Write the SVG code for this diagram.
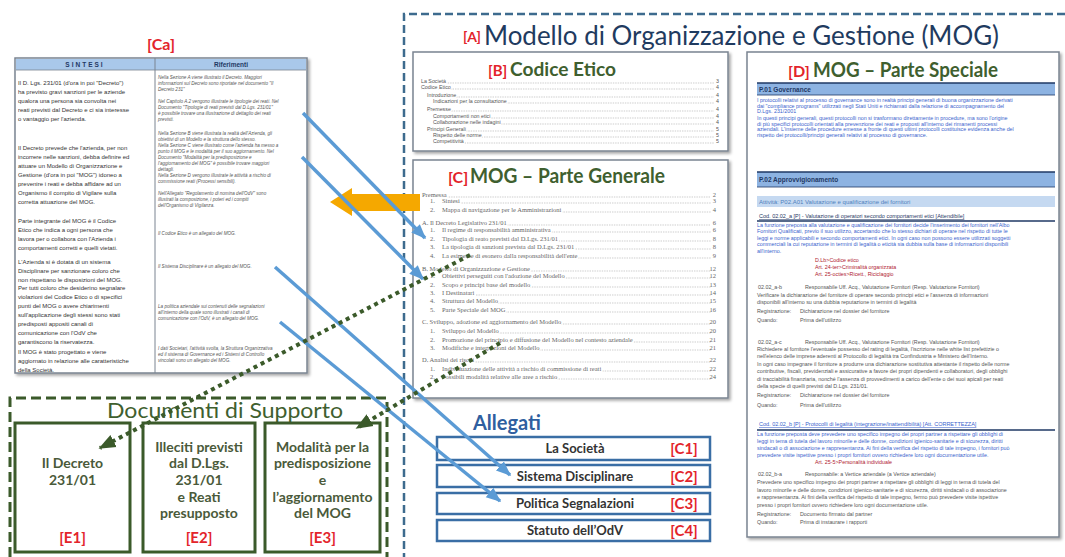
<svg xmlns="http://www.w3.org/2000/svg" width="1065" height="557" viewBox="0 0 1065 557">
<defs>
<filter id="sh" x="-5%" y="-5%" width="115%" height="115%"><feDropShadow dx="2" dy="2" stdDeviation="1.5" flood-color="#000" flood-opacity="0.35"/></filter>
<marker id="ab" viewBox="0 0 10 10" refX="9" refY="5" markerWidth="15" markerHeight="15" markerUnits="userSpaceOnUse" orient="auto"><path d="M0,1 L10,5 L0,9 Z" fill="#5b9bd5"/></marker>
<marker id="ag" viewBox="0 0 10 10" refX="9" refY="5" markerWidth="17" markerHeight="17" markerUnits="userSpaceOnUse" orient="auto"><path d="M0,1 L10,5 L0,9 Z" fill="#3b5a2a"/></marker>
</defs>
<style>
.red{fill:#e3242b;font-family:Lato,"Liberation Sans",sans-serif;font-weight:bold}
.sm{font-family:"Liberation Sans",Arial,sans-serif;font-size:6px;fill:#333}
.ri{font-family:"Liberation Sans",Arial,sans-serif;font-size:4.6px;font-style:italic;fill:#555}
.tocs{font-family:"Liberation Sans",Arial,sans-serif;font-size:5.3px;fill:#555;paint-order:stroke;stroke:#fff;stroke-width:2px}
.tocg{font-family:"Liberation Serif",serif;font-size:6.5px;fill:#666;paint-order:stroke;stroke:#fff;stroke-width:2.5px}
.num{font-family:"Liberation Serif",serif;font-size:6.5px;fill:#666;text-anchor:end}
.nums{font-family:"Liberation Sans",Arial,sans-serif;font-size:5.3px;fill:#555;text-anchor:end}
.ldr{stroke:#999;stroke-width:0.7;stroke-dasharray:0.7 1}
.ps{font-family:"Liberation Sans",Arial,sans-serif;font-size:5.35px;fill:#3a5fcd}
.pg{font-family:"Liberation Sans",Arial,sans-serif;font-size:5.35px;fill:#555}
.pr{font-family:"Liberation Sans",Arial,sans-serif;font-size:5.35px;fill:#b02030}
.ph{font-family:"Liberation Sans",Arial,sans-serif;font-size:6.5px;font-weight:bold;fill:#1f3864}
.gt{font-family:Lato,"Liberation Sans",sans-serif;font-weight:bold;fill:#3f5f2f}
.doc{fill:#fff;stroke:#7a8491;stroke-width:1.5}
.et{font-family:Lato,"Liberation Sans",sans-serif;font-size:14px;font-weight:bold;fill:#4a5a3a;text-anchor:middle}
.al{font-family:Lato,"Liberation Sans",sans-serif;font-size:13px;font-weight:bold;fill:#333;text-anchor:middle}
.abox{fill:#fff;stroke:#3a6ea5;stroke-width:2.5}
.ebox{fill:#fff;stroke:#3b5a2a;stroke-width:3}
.blu{fill:none;stroke:#5b9bd5;stroke-width:3.5}
.grn{fill:none;stroke:#3b5a2a;stroke-width:4;stroke-dasharray:4 4}
</style>
<rect width="1065" height="557" fill="#fff"/>

<!-- [Ca] summary document -->
<g id="doc-ca">
<text x="161" y="50" class="red" font-size="16" text-anchor="middle">[Ca]</text>
<rect x="15" y="58" width="292" height="315" class="doc" filter="url(#sh)"/>
<rect x="16" y="59" width="290" height="11" fill="#a9c8ea"/>
<line x1="16" y1="70" x2="306" y2="70" stroke="#7a8491" stroke-width="0.8"/>
<line x1="155" y1="58" x2="155" y2="373" stroke="#7a8491" stroke-width="1"/>
<text x="85" y="67.3" font-family="Liberation Sans, Arial, sans-serif" font-size="6.5" font-weight="bold" fill="#1f3864" text-anchor="middle" letter-spacing="2">SINTESI</text>
<text x="231" y="67.3" font-family="Liberation Sans, Arial, sans-serif" font-size="6.5" font-weight="bold" fill="#1f3864" text-anchor="middle">Riferimenti</text>
<g class="sm">
<text x="18" y="85">Il D. Lgs. 231/01 (d'ora in poi "Decreto")</text>
<text x="18" y="94">ha previsto gravi sanzioni per le aziende</text>
<text x="18" y="103">qualora una persona sia convolta nei</text>
<text x="18" y="112">reati previsti dal Decreto e ci sia interesse</text>
<text x="18" y="121">o vantaggio per l'azienda.</text>
<text x="18" y="150">Il Decreto prevede che l'azienda, per non</text>
<text x="18" y="159">incorrere nelle sanzioni, debba definire ed</text>
<text x="18" y="168">attuare un Modello di Organizzazione e</text>
<text x="18" y="177">Gestione (d'ora in poi "MOG") idoneo a</text>
<text x="18" y="186">prevenire i reati e debba affidare ad un</text>
<text x="18" y="195">Organismo il compito di Vigilare sulla</text>
<text x="18" y="204">corretta attuazione del MOG.</text>
<text x="18" y="223">Parte integrante del MOG è il Codice</text>
<text x="18" y="232">Etico che indica a ogni persona che</text>
<text x="18" y="241">lavora per o collabora con l'Azienda i</text>
<text x="18" y="250">comportamenti corretti e quelli vietati.</text>
<text x="18" y="264">L'Azienda si è dotata di un sistema</text>
<text x="18" y="273">Disciplinare per sanzionare coloro che</text>
<text x="18" y="282">non rispettano le disposizioni del MOG.</text>
<text x="18" y="290">Per tutti coloro che desiderino segnalare</text>
<text x="18" y="299">violazioni del Codice Etico o di specifici</text>
<text x="18" y="308">punti del MOG o avere chiarimenti</text>
<text x="18" y="317">sull'applicazione degli stessi sono stati</text>
<text x="18" y="326">predisposti appositi canali di</text>
<text x="18" y="335">comunicazione con l'OdV che</text>
<text x="18" y="344">garantiscono la riservatezza.</text>
<text x="18" y="354">Il MOG è stato progettato e viene</text>
<text x="18" y="363">aggiornato in relazione alle caratteristiche</text>
<text x="18" y="372">della Società.</text>
</g>
<g class="ri">
<text x="158" y="79">Nella Sezione A viene illustrato il Decreto. Maggiori</text>
<text x="158" y="85">informazioni sul Decreto sono riportate nel documento "Il</text>
<text x="158" y="91">Decreto 231"</text>
<text x="158" y="103">Nel Capitolo A.2 vengono illustrate le tipologie dei reati. Nel</text>
<text x="158" y="109">Documento "Tipologie di reati previsti dal D.Lgs. 231/01"</text>
<text x="158" y="115">è possibile trovare una illustrazione di dettaglio dei reati</text>
<text x="158" y="121">previsti.</text>
<text x="158" y="135">Nella Sezione B viene illustrata la realtà dell'Azienda, gli</text>
<text x="158" y="141">obiettivi di un Modello e la struttura dello stesso.</text>
<text x="158" y="147">Nella Sezione C viene illustrato come l'azienda ha messo a</text>
<text x="158" y="153">punto il MOG e le modalità per il suo aggiornamento. Nel</text>
<text x="158" y="159">Documento "Modalità per la predisposizione e</text>
<text x="158" y="165">l'aggiornamento del MOG" è possibile trovare maggiori</text>
<text x="158" y="171">dettagli.</text>
<text x="158" y="177">Nella Sezione D vengono illustrate le attività a rischio di</text>
<text x="158" y="183">commissione reati (Processi sensibili).</text>
<text x="158" y="195">Nell'Allegato "Regolamento di nomina dell'OdV" sono</text>
<text x="158" y="201">illustrati la composizione, i poteri ed i compiti</text>
<text x="158" y="207">dell'Organismo di Vigilanza.</text>
<text x="158" y="235">Il Codice Etico è un allegato del MOG.</text>
<text x="158" y="268">Il Sistema Disciplinare è un allegato del MOG.</text>
<text x="158" y="308">La politica aziendale sui contenuti delle segnalazioni</text>
<text x="158" y="314">all'interno della quale sono illustrati i canali di</text>
<text x="158" y="320">comunicazione con l'OdV, è un allegato del MOG.</text>
<text x="158" y="350">I dati Societari, l'attività svolta, la Struttura Organizzativa</text>
<text x="158" y="356">ed il sistema di Governance ed i Sistemi di Controllo</text>
<text x="158" y="362">vincolati sono un allegato del MOG.</text>
</g>
</g>

<!-- [A] MOG container -->
<g id="mog">
<path d="M1065,14 H404 V557" fill="none" stroke="#3d6b8e" stroke-width="2.5" stroke-dasharray="8 4"/>
<text x="463" y="42" class="red" font-size="14" font-weight="normal">[A]</text>
<text x="484" y="45" font-family="Lato, 'Liberation Sans', sans-serif" font-size="26" fill="#1f3b60" textLength="515" lengthAdjust="spacingAndGlyphs">Modello di Organizzazione e Gestione (MOG)</text>
</g>

<!-- [B] Codice Etico -->
<g id="codice-etico">
<rect x="413" y="52" width="315" height="99" class="doc" filter="url(#sh)"/>
<text x="488" y="76" class="red" font-size="15" font-weight="normal">[B]</text>
<text x="510" y="76" class="gt" font-size="19" textLength="106" lengthAdjust="spacingAndGlyphs">Codice Etico</text>
<g class="ldr">
<line x1="421" y1="83" x2="714" y2="83"/><line x1="421" y1="89" x2="714" y2="89"/>
<line x1="427" y1="97" x2="714" y2="97"/><line x1="433" y1="103" x2="714" y2="103"/>
<line x1="427" y1="111" x2="714" y2="111"/><line x1="433" y1="118" x2="714" y2="118"/>
<line x1="433" y1="124" x2="714" y2="124"/><line x1="427" y1="131" x2="714" y2="131"/>
<line x1="433" y1="137" x2="714" y2="137"/><line x1="433" y1="143" x2="714" y2="143"/>
</g>
<g class="tocs">
<text x="421" y="83">La Società</text><text x="421" y="89">Codice Etico</text>
<text x="427" y="97">Introduzione</text><text x="433" y="103">Indicazioni per la consultazione</text>
<text x="427" y="111">Premesse</text><text x="433" y="118">Comportamenti non etici</text>
<text x="433" y="124">Collaborazione nelle indagini</text><text x="427" y="131">Principi Generali</text>
<text x="433" y="137">Rispetto delle norme</text><text x="433" y="143">Competitività</text>
</g>
<g class="nums">
<text x="719" y="83">3</text><text x="719" y="89">4</text><text x="719" y="97">4</text><text x="719" y="103">4</text>
<text x="719" y="111">4</text><text x="719" y="118">4</text><text x="719" y="124">4</text><text x="719" y="131">5</text>
<text x="719" y="137">5</text><text x="719" y="143">5</text>
</g>
</g>

<!-- [C] Parte Generale -->
<g id="parte-generale">
<rect x="413" y="160" width="315" height="238" class="doc" filter="url(#sh)"/>
<text x="448" y="183" class="red" font-size="16" font-weight="normal">[C]</text>
<text x="470" y="183" class="gt" font-size="21" textLength="195" lengthAdjust="spacingAndGlyphs">MOG – Parte Generale</text>
<g class="ldr">
<line x1="422" y1="197" x2="711" y2="197"/><line x1="442" y1="203" x2="711" y2="203"/><line x1="442" y1="212" x2="711" y2="212"/>
<line x1="422" y1="225" x2="711" y2="225"/><line x1="442" y1="232" x2="711" y2="232"/><line x1="442" y1="241" x2="711" y2="241"/>
<line x1="442" y1="249" x2="711" y2="249"/><line x1="442" y1="258" x2="711" y2="258"/>
<line x1="422" y1="271" x2="711" y2="271"/><line x1="442" y1="278" x2="711" y2="278"/><line x1="442" y1="287" x2="711" y2="287"/>
<line x1="442" y1="295" x2="711" y2="295"/><line x1="442" y1="303" x2="711" y2="303"/><line x1="442" y1="312" x2="711" y2="312"/>
<line x1="422" y1="324" x2="711" y2="324"/><line x1="442" y1="333" x2="711" y2="333"/><line x1="442" y1="342" x2="711" y2="342"/>
<line x1="442" y1="350" x2="711" y2="350"/><line x1="422" y1="362" x2="711" y2="362"/><line x1="442" y1="371" x2="711" y2="371"/>
<line x1="442" y1="379" x2="711" y2="379"/>
</g>
<g class="tocg">
<text x="422" y="197">Premessa</text>
<text x="430" y="203">1.</text><text x="442" y="203">Sintesi</text>
<text x="430" y="212">2.</text><text x="442" y="212">Mappa di navigazione per le Amministrazioni</text>
<text x="422" y="225">A. Il Decreto Legislativo 231/01</text>
<text x="430" y="232">1.</text><text x="442" y="232">Il regime di responsabilità amministrativa</text>
<text x="430" y="241">2.</text><text x="442" y="241">Tipologia di reato previsti dal D.Lgs. 231/01</text>
<text x="430" y="249">3.</text><text x="442" y="249">La tipologia di sanzioni prevista dal D.Lgs. 231/01</text>
<text x="430" y="258">4.</text><text x="442" y="258">La esimente di esonero dalla responsabilità dell'ente</text>
<text x="422" y="271">B. Modello di Organizzazione e Gestione</text>
<text x="430" y="278">1.</text><text x="442" y="278">Obiettivi perseguiti con l'adozione del Modello</text>
<text x="430" y="287">2.</text><text x="442" y="287">Scopo e principi base del modello</text>
<text x="430" y="295">3.</text><text x="442" y="295">I Destinatari</text>
<text x="430" y="303">4.</text><text x="442" y="303">Struttura del Modello</text>
<text x="430" y="312">5.</text><text x="442" y="312">Parte Speciale del MOG</text>
<text x="422" y="324">C. Sviluppo, adozione ed aggiornamento del Modello</text>
<text x="430" y="333">1.</text><text x="442" y="333">Sviluppo del Modello</text>
<text x="430" y="342">2.</text><text x="442" y="342">Promozione del principio e diffusione del Modello nel contesto aziendale</text>
<text x="430" y="350">3.</text><text x="442" y="350">Modifiche e integrazioni del Modello</text>
<text x="422" y="362">D. Analisi dei rischi</text>
<text x="430" y="371">1.</text><text x="442" y="371">Individuazione delle attività a rischio di commissione di reati</text>
<text x="430" y="379">2.</text><text x="442" y="379">Possibili modalità relative alle aree a rischio</text>
</g>
<g class="num">
<text x="716" y="197">2</text><text x="716" y="203">3</text><text x="716" y="212">4</text><text x="716" y="225">6</text>
<text x="716" y="232">6</text><text x="716" y="241">8</text><text x="716" y="249">8</text><text x="716" y="258">9</text>
<text x="716" y="271">12</text><text x="716" y="278">12</text><text x="716" y="287">13</text><text x="716" y="295">14</text>
<text x="716" y="303">15</text><text x="716" y="312">16</text><text x="716" y="324">20</text><text x="716" y="333">20</text>
<text x="716" y="342">21</text><text x="716" y="350">21</text><text x="716" y="362">22</text><text x="716" y="371">22</text>
<text x="716" y="379">24</text>
</g>
</g>

<!-- [D] Parte Speciale -->
<g id="parte-speciale">
<rect x="747" y="52" width="312" height="485" class="doc" filter="url(#sh)"/>
<text x="788" y="77" class="red" font-size="16" font-weight="normal">[D]</text>
<text x="813" y="77" class="gt" font-size="21" textLength="185" lengthAdjust="spacingAndGlyphs">MOG – Parte Speciale</text>
<rect x="757" y="83" width="298" height="12" fill="#8db3e2"/>
<line x1="757" y1="83" x2="1055" y2="83" stroke="#1f3864" stroke-width="1.5"/>
<line x1="757" y1="95" x2="1055" y2="95" stroke="#1f3864" stroke-width="0.8"/>
<text x="759" y="91.5" class="ph">P.01 Governance</text>
<g class="ps">
<text x="757" y="102">I protocolli relativi al processo di governance sono in realtà principi generali di buona organizzazione derivati</text>
<text x="757" y="107.5">dai "compliance programs" utilizzati negli Stati Uniti e richiamati dalla relazione di accompagnamento del</text>
<text x="757" y="113">D.Lgs. 231/2001</text>
<text x="757" y="120">In questi principi generali, questi protocolli non si trasformano direttamente in procedure, ma sono l'origine</text>
<text x="757" y="125.5">di più specifici protocolli orientati alla prevenzione dei reati e proposti all'interno dei rimanenti processi</text>
<text x="757" y="131">aziendali. L'insieme delle procedure emesse a fronte di questi ultimi protocolli costituisce evidenza anche del</text>
<text x="757" y="136.5">rispetto dei protocolli/principi generali relativi al processo di governance.</text>
</g>
<rect x="757" y="172" width="298" height="15" fill="#8db3e2"/>
<line x1="757" y1="172" x2="1055" y2="172" stroke="#1f3864" stroke-width="1.5"/>
<line x1="757" y1="187" x2="1055" y2="187" stroke="#1f3864" stroke-width="0.8"/>
<text x="759" y="182" class="ph">P.02 Approvvigionamento</text>
<rect x="757" y="196" width="298" height="11" fill="#c5d9f1"/>
<text x="759" y="204" font-family="Liberation Sans, Arial, sans-serif" font-size="6" fill="#4f81bd">Attività: P02.A01 Valutazione e qualificazione dei fornitori</text>
<text x="759" y="218" font-family="Liberation Sans, Arial, sans-serif" font-size="5.5" fill="#1f3864" text-decoration="underline">Cod. 02.02_a [P] - Valutazione di operatori secondo comportamenti etici [Attendibile]</text>
<line x1="757" y1="221" x2="1055" y2="221" stroke="#1f3864" stroke-width="1.5"/>
<g class="ps">
<text x="757" y="227">La funzione preposta alla valutazione e qualificazione dei fornitori decide l'inserimento dei fornitori nell'Albo</text>
<text x="757" y="233">Fornitori Qualificati, previo il suo utilizzo, accertando che lo stesso dichiari di operare nel rispetto di tutte le</text>
<text x="757" y="239.5">leggi e norme applicabili e secondo comportamenti etici. In ogni caso non possono essere utilizzati soggetti</text>
<text x="757" y="246">commerciali la cui reputazione in termini di legalità o eticità sia dubbia sulla base di informazioni disponibili</text>
<text x="757" y="252.5">all'interno.</text>
</g>
<g class="pr">
<text x="815" y="262">D.Lb&gt;Codice etico</text>
<text x="815" y="269">Art. 24-ter&gt;Criminalità organizzata</text>
<text x="815" y="276">Art. 25-octies&gt;Ricett., Riciclaggio</text>
</g>
<g class="pg">
<text x="758" y="289">02.02_a-b</text><text x="805" y="289">Responsabile Uff. Acq., Valutazione Fornitori (Resp. Valutazione Fornitori)</text>
<text x="757" y="297">Verificare la dichiarazione del fornitore di operare secondo principi etici e l'assenza di informazioni</text>
<text x="757" y="304">disponibili all'interno su una dubbia reputazione in termini di legalità</text>
<text x="757" y="313">Registrazione:</text><text x="800" y="313">Dichiarazione nel dossier del fornitore</text>
<text x="757" y="322">Quando:</text><text x="800" y="322">Prima dell'utilizzo</text>
<text x="758" y="344">02.02_a-c</text><text x="805" y="344">Responsabile Uff. Acq., Valutazione Fornitori (Resp. Valutazione Fornitori)</text>
<text x="757" y="351">Richiedere al fornitore l'eventuale possesso del rating di legalità, l'iscrizione nelle white list prefettizie o</text>
<text x="757" y="358">nell'elenco delle imprese aderenti al Protocollo di legalità tra Confindustria e Ministero dell'Interno.</text>
<text x="757" y="365.5">In ogni caso impegnare il fornitore a produrre una dichiarazione sostitutiva attestante il rispetto delle norme</text>
<text x="757" y="373">contributive, fiscali, previdenziali e assicurative a favore dei propri dipendenti e collaboratori, degli obblighi</text>
<text x="757" y="380.5">di tracciabilità finanziaria, nonché l'assenza di provvedimenti a carico dell'ente o dei suoi apicali per reati</text>
<text x="757" y="388">della specie di quelli previsti dal D.Lgs. 231/01.</text>
<text x="757" y="397">Registrazione:</text><text x="800" y="397">Dichiarazione nel dossier del fornitore</text>
<text x="757" y="407">Quando:</text><text x="800" y="407">Prima dell'utilizzo</text>
</g>
<text x="759" y="426" font-family="Liberation Sans, Arial, sans-serif" font-size="5.5" fill="#3a5fcd" text-decoration="underline">Cod. 02.02_b [P] - Protocolli di legalità (integrazione/inattendibilità) [Att. CORRETTEZZA]</text>
<line x1="757" y1="430" x2="1055" y2="430" stroke="#1f3864" stroke-width="1.5"/>
<g class="ps">
<text x="757" y="436">La funzione preposta deve prevedere uno specifico impegno dei propri partner a rispettare gli obblighi di</text>
<text x="757" y="443">leggi in tema di tutela del lavoro minorile e delle donne, condizioni igienico-sanitarie e di sicurezza, diritti</text>
<text x="757" y="450">sindacali o di associazione e rappresentanza. Ai fini della verifica del rispetto di tale impegno, i fornitori può</text>
<text x="757" y="457">prevedere visite ispettive presso i propri fornitori ovvero richiedere loro ogni documentazione utile.</text>
</g>
<text x="815" y="464" class="pr">Art. 25-5&gt;Personalità individuale</text>
<g class="pg">
<text x="758" y="476">02.02_b-a</text><text x="805" y="476">Responsabile: a Vertice aziendale (a Vertice aziendale)</text>
<text x="757" y="484">Prevedere uno specifico impegno dei propri partner a rispettare gli obblighi di leggi in tema di tutela del</text>
<text x="757" y="491.5">lavoro minorile e delle donne, condizioni igienico-sanitarie e di sicurezza, diritti sindacali o di associazione</text>
<text x="757" y="499">e rappresentanza. Ai fini della verifica del rispetto di tale impegno, fermo può prevedere visite ispettive</text>
<text x="757" y="506.5">presso i propri fornitori ovvero richiedere loro ogni documentazione utile.</text>
<text x="757" y="516">Registrazione:</text><text x="800" y="516">Documento firmato dal partner</text>
<text x="757" y="524">Quando:</text><text x="800" y="524">Prima di instaurare i rapporti</text>
</g>
</g>

<!-- Allegati -->
<g id="allegati">
<text x="473" y="430" font-family="Lato, 'Liberation Sans', sans-serif" font-size="20" font-weight="bold" fill="#2f5fa0">Allegati</text>
<g id="c1"><rect x="437" y="437" width="273" height="23" class="abox"/><text x="575" y="453" class="al">La Società</text><text x="684" y="454" class="red" font-size="15" text-anchor="middle">[C1]</text></g>
<g id="c2"><rect x="437" y="465" width="273" height="22" class="abox"/><text x="575" y="480.5" class="al">Sistema Disciplinare</text><text x="684" y="481.5" class="red" font-size="15" text-anchor="middle">[C2]</text></g>
<g id="c3"><rect x="437" y="493" width="273" height="21" class="abox"/><text x="575" y="508" class="al">Politica Segnalazioni</text><text x="684" y="509" class="red" font-size="15" text-anchor="middle">[C3]</text></g>
<g id="c4"><rect x="437" y="520" width="273" height="21" class="abox"/><text x="575" y="535" class="al">Statuto dell’OdV</text><text x="684" y="536" class="red" font-size="15" text-anchor="middle">[C4]</text></g>
</g>

<!-- Documenti di Supporto -->
<g id="documenti-supporto">
<path d="M10,557 V398 H387 V557" fill="none" stroke="#3b5a2a" stroke-width="3" stroke-dasharray="10 5"/>
<text x="107" y="418" font-family="Lato, 'Liberation Sans', sans-serif" font-size="21" fill="#3f5f2f" textLength="236" lengthAdjust="spacingAndGlyphs">Documenti di Supporto</text>
<g id="e1"><rect x="15" y="423" width="115" height="129" class="ebox"/>
<text x="72.5" y="468" class="et">Il Decreto</text><text x="72.5" y="485" class="et">231/01</text>
<text x="72.5" y="543" class="red" font-size="15" text-anchor="middle">[E1]</text></g>
<g id="e2"><rect x="143" y="423" width="112" height="129" class="ebox"/>
<text x="199" y="452" class="et">Illeciti previsti</text><text x="199" y="468" class="et">dal D.Lgs.</text><text x="199" y="485" class="et">231/01</text><text x="199" y="502" class="et">e Reati</text><text x="199" y="518" class="et">presupposto</text>
<text x="199" y="543" class="red" font-size="15" text-anchor="middle">[E2]</text></g>
<g id="e3"><rect x="265" y="423" width="115" height="129" class="ebox"/>
<text x="322.5" y="452" class="et">Modalità per la</text><text x="322.5" y="468" class="et">predisposizione</text><text x="322.5" y="485" class="et">e</text><text x="322.5" y="502" class="et">l’aggiornamento</text><text x="322.5" y="518" class="et">del MOG</text>
<text x="322.5" y="543" class="red" font-size="15" text-anchor="middle">[E3]</text></g>
</g>

<!-- Connectors -->
<g id="connectors">
<polygon points="330,202 352,188 352,194 420,194 420,211 352,211 352,216" fill="#f5a800"/>
<line x1="303" y1="113" x2="425" y2="238" class="blu" marker-end="url(#ab)"/>
<line x1="302" y1="157" x2="423" y2="279" class="blu" marker-end="url(#ab)"/>
<line x1="275" y1="267" x2="510" y2="475" class="blu" marker-end="url(#ab)"/>
<line x1="280" y1="322" x2="500" y2="501" class="blu" marker-end="url(#ab)"/>
<line x1="470" y1="255" x2="100" y2="448" class="grn" marker-end="url(#ag)"/>
<line x1="500" y1="343" x2="357" y2="428" class="grn" marker-end="url(#ag)"/>
</g>
</svg>
